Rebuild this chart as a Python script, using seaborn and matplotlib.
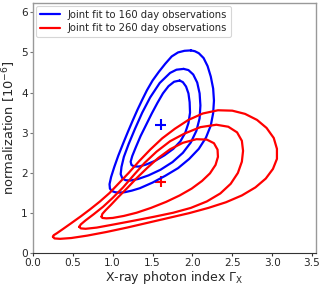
import matplotlib
matplotlib.use("Agg")
import matplotlib.pyplot as plt
import seaborn as sns
import pandas as pd

# ---- data: confidence contours (Gamma_X, normalization [1e-6]) ----
label_160 = "Joint fit to 160 day observations"
label_260 = "Joint fit to 260 day observations"

blue_inner_x = [1.84, 1.77, 1.70, 1.63, 1.56, 1.49, 1.42, 1.35, 1.29, 1.245, 1.225, 1.235, 1.27, 1.33, 1.42, 1.53, 1.65, 1.76, 1.85, 1.91, 1.95, 1.97, 1.965, 1.95, 1.92, 1.88, 1.84]
blue_inner_y = [4.30, 4.27, 4.16, 3.98, 3.74, 3.48, 3.20, 2.92, 2.64, 2.42, 2.28, 2.20, 2.16, 2.16, 2.21, 2.30, 2.44, 2.60, 2.79, 3.00, 3.24, 3.50, 3.76, 3.98, 4.15, 4.26, 4.30]

blue_mid_x = [1.89, 1.80, 1.72, 1.59, 1.47, 1.37, 1.28, 1.20, 1.14, 1.11, 1.10, 1.12, 1.16, 1.22, 1.32, 1.45, 1.60, 1.75, 1.88, 1.98, 2.05, 2.09, 2.10, 2.09, 2.06, 2.01, 1.95, 1.89]
blue_mid_y = [4.59, 4.57, 4.49, 4.24, 3.88, 3.50, 3.10, 2.72, 2.40, 2.15, 1.97, 1.87, 1.82, 1.81, 1.85, 1.94, 2.08, 2.27, 2.50, 2.76, 3.05, 3.36, 3.68, 3.98, 4.25, 4.45, 4.56, 4.59]

blue_outer_x = [1.98, 1.90, 1.82, 1.74, 1.66, 1.58, 1.50, 1.43, 1.37, 1.31, 1.25, 1.19, 1.13, 1.07, 1.02, 0.98, 0.96, 0.965, 0.99, 1.03, 1.08, 1.15, 1.24, 1.34, 1.50, 1.66, 1.82, 1.96, 2.08, 2.17, 2.23, 2.26, 2.27, 2.26, 2.23, 2.19, 2.14, 2.08, 2.03, 1.98]
blue_outer_y = [5.05, 5.04, 5.00, 4.90, 4.72, 4.52, 4.30, 4.06, 3.82, 3.57, 3.30, 3.02, 2.73, 2.43, 2.15, 1.90, 1.72, 1.61, 1.55, 1.52, 1.51, 1.52, 1.56, 1.62, 1.76, 1.93, 2.12, 2.35, 2.60, 2.88, 3.18, 3.49, 3.80, 4.10, 4.40, 4.66, 4.86, 4.98, 5.03, 5.05]

red_inner_x = [0.86, 0.87, 0.91, 0.98, 1.07, 1.18, 1.30, 1.43, 1.57, 1.72, 1.88, 2.05, 2.18, 2.27, 2.315, 2.32, 2.29, 2.22, 2.12, 1.99, 1.84, 1.67, 1.48, 1.30, 1.14, 1.00, 0.92, 0.87, 0.86]
red_inner_y = [0.91, 0.98, 1.07, 1.21, 1.40, 1.62, 1.87, 2.12, 2.37, 2.59, 2.75, 2.84, 2.83, 2.74, 2.58, 2.40, 2.20, 1.99, 1.80, 1.61, 1.44, 1.28, 1.13, 1.01, 0.93, 0.88, 0.87, 0.88, 0.91]

red_mid_x = [0.58, 0.60, 0.66, 0.76, 0.88, 1.00, 1.13, 1.27, 1.40, 1.55, 1.72, 1.90, 2.10, 2.30, 2.45, 2.56, 2.62, 2.635, 2.62, 2.57, 2.48, 2.35, 2.18, 1.98, 1.76, 1.52, 1.26, 1.02, 0.80, 0.66, 0.60, 0.58]
red_mid_y = [0.66, 0.72, 0.82, 0.97, 1.16, 1.38, 1.64, 1.96, 2.25, 2.53, 2.79, 2.98, 3.14, 3.20, 3.15, 3.01, 2.80, 2.55, 2.28, 2.00, 1.73, 1.49, 1.29, 1.13, 1.01, 0.91, 0.81, 0.72, 0.64, 0.61, 0.62, 0.66]

red_outer_x = [0.25, 0.26, 0.30, 0.38, 0.48, 0.60, 0.72, 0.84, 0.96, 1.08, 1.20, 1.33, 1.47, 1.62, 1.78, 1.95, 2.13, 2.32, 2.50, 2.66, 2.81, 2.93, 3.02, 3.06, 3.06, 3.01, 2.92, 2.79, 2.62, 2.42, 2.20, 1.96, 1.70, 1.44, 1.18, 0.92, 0.68, 0.48, 0.34, 0.27, 0.25]
red_outer_y = [0.41, 0.45, 0.50, 0.61, 0.75, 0.92, 1.10, 1.29, 1.50, 1.75, 2.00, 2.29, 2.58, 2.86, 3.10, 3.32, 3.48, 3.56, 3.55, 3.47, 3.32, 3.12, 2.87, 2.60, 2.35, 2.10, 1.86, 1.64, 1.44, 1.27, 1.13, 1.00, 0.88, 0.76, 0.64, 0.53, 0.44, 0.38, 0.36, 0.37, 0.41]

best_fit_x = [1.60, 1.60]
best_fit_y = [3.20, 1.78]
best_fit_obs = [label_160, label_260]

x_ticks = [0.0, 0.5, 1.0, 1.5, 2.0, 2.5, 3.0, 3.5]
x_ticklabels = ["0.0", "0.5", "1.0", "1.5", "2.0", "2.5", "3.0", "3.5"]
y_ticks = [0, 1, 2, 3, 4, 5, 6]

# ---- build long table ----
contours = [
    (label_160, "b1", blue_inner_x, blue_inner_y),
    (label_160, "b2", blue_mid_x, blue_mid_y),
    (label_160, "b3", blue_outer_x, blue_outer_y),
    (label_260, "r1", red_inner_x, red_inner_y),
    (label_260, "r2", red_mid_x, red_mid_y),
    (label_260, "r3", red_outer_x, red_outer_y),
]
rows = []
for obs, lev, xs, ys in contours:
    for i, (xv, yv) in enumerate(zip(xs, ys)):
        rows.append({"gamma": xv, "norm": yv, "obs": obs, "level": lev, "order": i})
df = pd.DataFrame(rows)
pts = pd.DataFrame({"gamma": best_fit_x, "norm": best_fit_y, "obs": best_fit_obs})

palette = {label_160: "#0000ff", label_260: "#ff0000"}

sns.set_style("white")
plt.rcParams["font.family"] = ["DejaVu Sans"]

fig = plt.figure(figsize=(3.19, 2.88), dpi=100)
ax = fig.add_axes([0.1034, 0.1205, 0.8872, 0.8691])

sns.lineplot(data=df, x="gamma", y="norm", hue="obs", units="level", estimator=None,
             sort=False, palette=palette, linewidth=1.6, ax=ax)
for line in ax.get_lines():
    line.set_solid_joinstyle("round")
sns.scatterplot(data=pts, x="gamma", y="norm", hue="obs", palette=palette, marker="+",
                s=60, linewidth=1.5, legend=False, ax=ax)

ax.set_xlim(0, 3.55)
ax.set_ylim(0, 6.23)
ax.set_xticks(x_ticks)
ax.set_yticks(y_ticks)
ax.set_xticklabels(x_ticklabels)
ax.tick_params(axis="both", labelsize=7.6, length=2.5, width=0.8, pad=1.2, direction="out",
               bottom=True, left=True)
ax.set_xlabel(r"X-ray photon index $\Gamma_\mathrm{X}$", fontsize=9.0, labelpad=0.5)
ax.set_ylabel(r"normalization [$10^{-6}$]", fontsize=9.4, labelpad=2)

for side in ["left", "top", "right"]:
    ax.spines[side].set_color("#999999")
    ax.spines[side].set_linewidth(1.0)
ax.spines["bottom"].set_color("#333333")
ax.spines["bottom"].set_linewidth(0.8)
ax.tick_params(axis="y", color="#777777")
ax.tick_params(axis="x", color="#333333")

leg = ax.legend(loc="upper left", fontsize=7.2, frameon=True, handlelength=2.0,
                borderpad=0.35, labelspacing=0.35, handletextpad=0.8,
                borderaxespad=0.35)
leg.get_frame().set_edgecolor("#cccccc")
leg.get_frame().set_linewidth(0.8)
for line in leg.get_lines():
    line.set_linewidth(1.6)

fig.savefig("out.png", dpi=100)
